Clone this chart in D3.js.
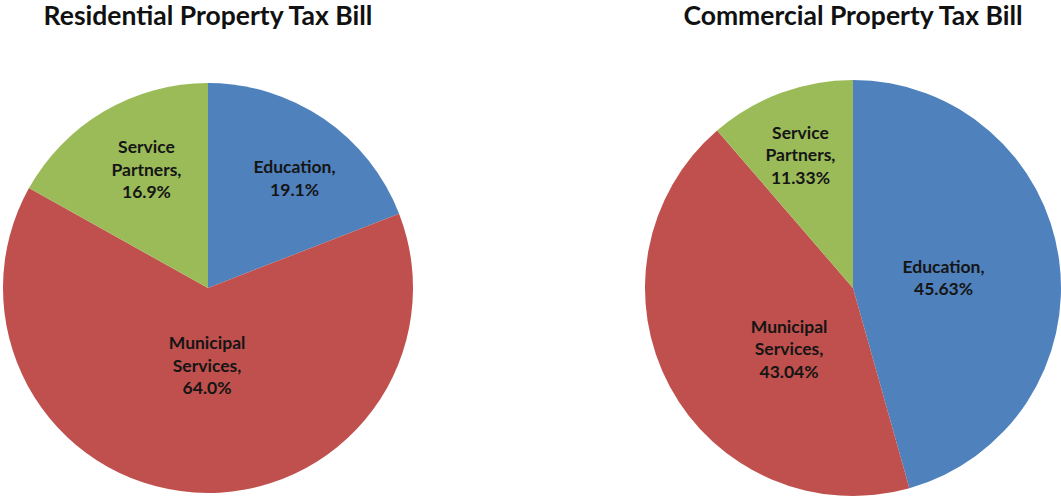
<!DOCTYPE html>
<meta charset="utf-8">
<title>Property Tax Bill</title>
<style>
body { margin: 0; background: #fff; font-family: Lato, "Open Sans", Arial, sans-serif; }
.title { font-size: 26.5px; font-weight: bold; fill: #111; text-anchor: middle; }
.slice-label { font-size: 17.5px; font-weight: bold; fill: #151515; text-anchor: middle; }
</style>
<body>
<script src="https://d3js.org/d3.v7.min.js"></script>
<script>
// data
var categories = ["Education", "Municipal Services", "Service Partners"];
var residential = [19.1, 64.0, 16.9];
var commercial = [45.63, 43.04, 11.33];
var residentialLabels = ["19.1%", "64.0%", "16.9%"];
var commercialLabels = ["45.63%", "43.04%", "11.33%"];
var titles = ["Residential Property Tax Bill", "Commercial Property Tax Bill"];

var colors = d3.scaleOrdinal()
  .domain(categories)
  .range(["#4f81bd", "#c0504d", "#9bbb59"]);

var width = 1061, height = 498;

var svg = d3.select("body").append("svg")
  .attr("width", width)
  .attr("height", height);

// small hand tweaks so labels sit where excel put them
var nudge = [
  [[9, 4], [5, -8], [8, 0]],
  [[4, 2], [13, 20], [-4, -2]]
];

var pies = [
  {title: titles[0], values: residential, labels: residentialLabels, cx: 208, cy: 288, r: 205, tx: 208},
  {title: titles[1], values: commercial, labels: commercialLabels, cx: 853, cy: 288, r: 208, tx: 853}
];

var pie = d3.pie().sort(null).value(function(d) { return d.value; });

pies.forEach(function(p, pi) {
  var rows = categories.map(function(c, i) {
    return {cat: c, value: p.values[i], pct: p.labels[i], idx: i};
  });
  var arcs = pie(rows);
  var arc = d3.arc().innerRadius(0).outerRadius(p.r);

  svg.append("text")
    .attr("class", "title")
    .attr("x", p.tx)
    .attr("y", 25)
    .text(p.title);

  var g = svg.append("g").attr("transform", "translate(" + p.cx + "," + p.cy + ")");

  g.selectAll("path")
    .data(arcs)
    .enter()
    .append("path")
    .attr("d", arc)
    .style("fill", function(d) { return colors(d.data.cat); });

  var lbl = g.selectAll(".slice-label")
    .data(arcs)
    .enter()
    .append("text")
    .attr("class", "slice-label")
    .attr("transform", function(d) {
      var span = d.endAngle - d.startAngle;
      var rr = p.r * (span > Math.PI / 2 ? 0.42 : 0.67);
      var mid = (d.startAngle + d.endAngle) / 2;
      var n = nudge[pi][d.data.idx];
      var x = rr * Math.sin(mid) + n[0];
      var y = -rr * Math.cos(mid) + n[1];
      return "translate(" + x + "," + y + ")";
    });

  lbl.each(function(d) {
    var words = d.data.cat.split(" ");
    var lines = words.map(function(w, i) { return i == words.length - 1 ? w + "," : w; });
    lines.push(d.data.pct);
    var t = d3.select(this);
    var lh = 22.5;
    var top = -(lines.length - 1) * lh / 2 + 6;
    lines.forEach(function(s, i) {
      t.append("tspan")
        .attr("x", 0)
        .attr("y", top + i * lh)
        .text(s);
    });
  });
});
</script>
</body>
